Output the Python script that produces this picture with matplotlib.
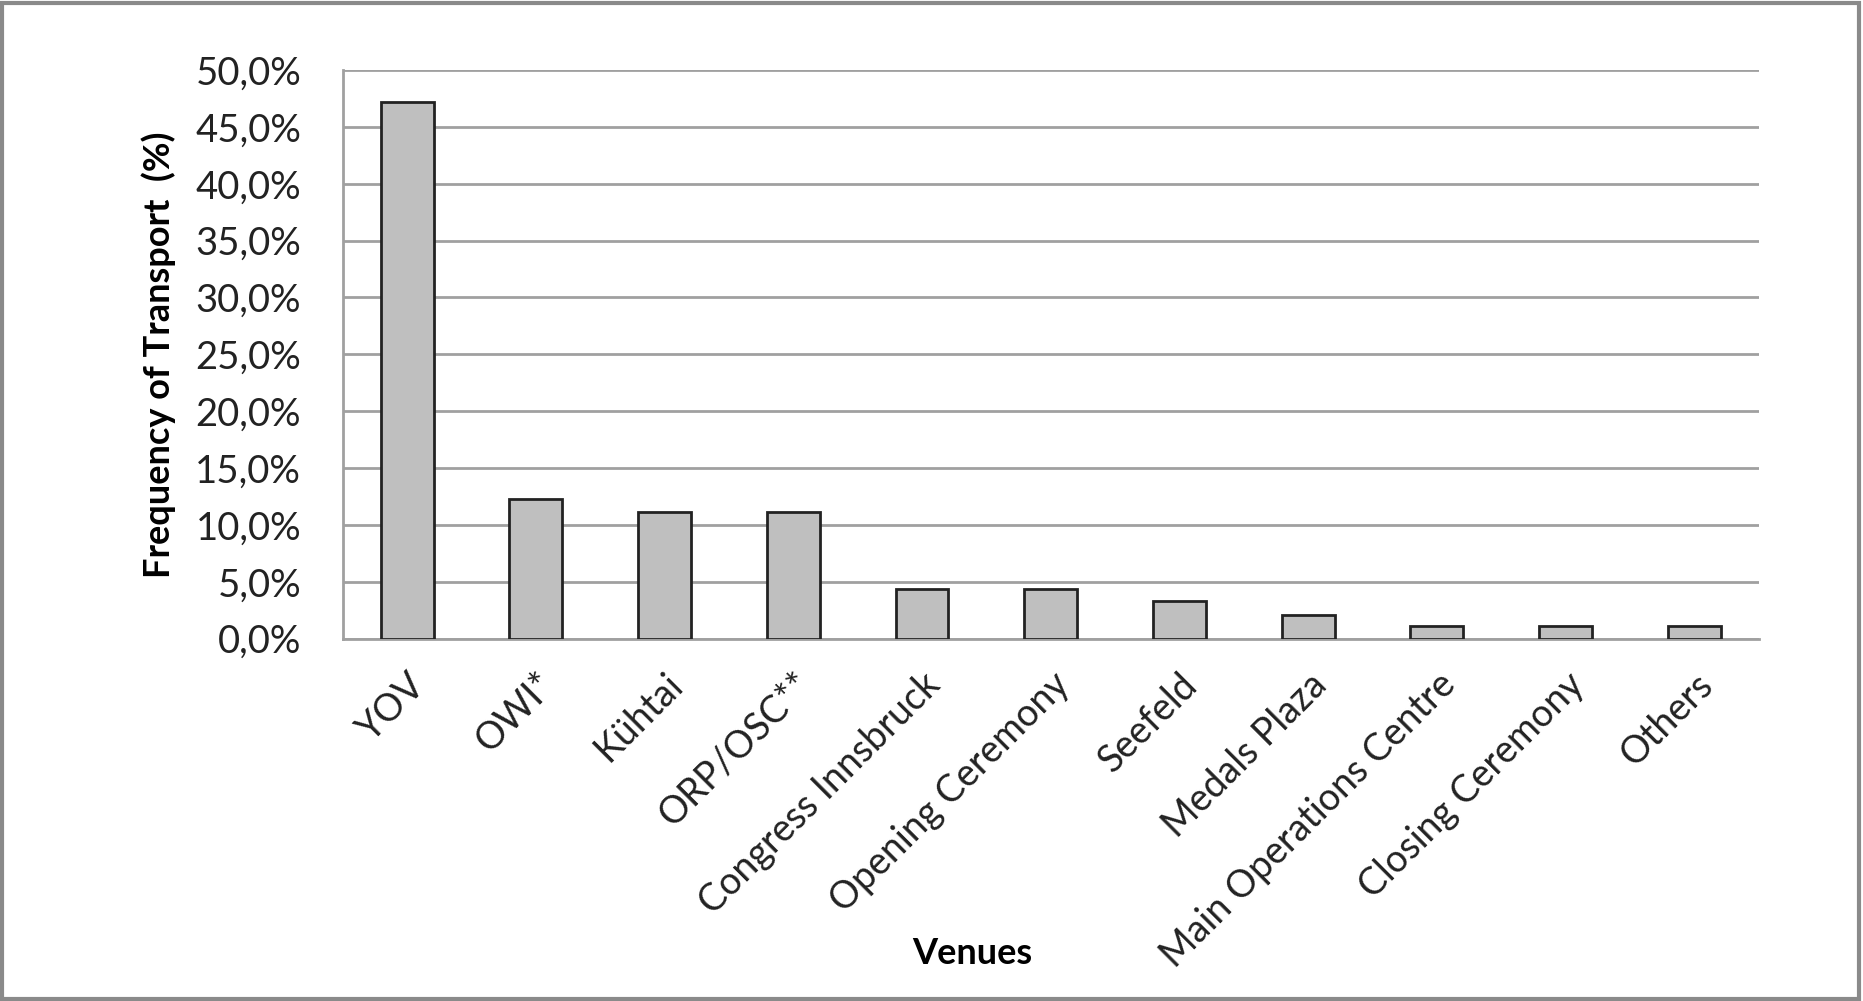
import matplotlib
matplotlib.use("Agg")
import matplotlib.pyplot as plt
from matplotlib.patches import Rectangle
from matplotlib.ticker import FuncFormatter

venues = ["YOV", "OWI*", "Kühtai", "ORP/OSC**", "Congress Innsbruck",
          "Opening Ceremony", "Seefeld", "Medals Plaza",
          "Main Operations Centre", "Closing Ceremony", "Others"]
frequency = [47.2, 12.3, 11.1, 11.1, 4.4, 4.4, 3.3, 2.1, 1.1, 1.1, 1.1]
y_ticks = [0, 5, 10, 15, 20, 25, 30, 35, 40, 45, 50]

plt.rcParams['font.family'] = ['Lato', 'DejaVu Sans']

fig = plt.figure(figsize=(18.63, 10.01), dpi=100)
ax = fig.add_axes([0.184, 0.362, 0.760, 0.568])

x = range(len(venues))
ax.bar(x, frequency, width=0.41, color="#bfbfbf", edgecolor="#222222",
       linewidth=2, zorder=3)

ax.set_xlim(-0.5, len(venues) - 0.5)
ax.set_ylim(0, 50)
ax.set_yticks(y_ticks)
ax.yaxis.set_major_formatter(
    FuncFormatter(lambda v, pos: f"{v:.1f}%".replace(".", ",")))
ax.grid(axis="y", color="#a0a0a0", linewidth=2, zorder=0)

ax.set_xticks(list(x))
ax.set_xticklabels(venues, rotation=45, ha="right", rotation_mode="anchor")
ax.tick_params(axis="y", labelsize=27.5, length=0, pad=30, colors="#222222")
ax.tick_params(axis="x", labelsize=27, length=0, pad=20, colors="#222222")

for side in ("top", "right"):
    ax.spines[side].set_visible(False)
for side in ("left", "bottom"):
    ax.spines[side].set_color("#a0a0a0")
    ax.spines[side].set_linewidth(2)

ax.set_ylabel("Frequency of Transport  (%)", fontsize=26, fontweight="bold",
              labelpad=14)
fig.text(0.522, 0.047, "Venues", fontsize=26, fontweight="bold",
         ha="center", va="center")

# grey frame round the whole figure
fig.patches.append(Rectangle((0.001, 0.002), 0.997, 0.995,
                             transform=fig.transFigure, fill=False,
                             edgecolor="#8a8a8a", linewidth=3))

fig.savefig("out.png", dpi=100)
